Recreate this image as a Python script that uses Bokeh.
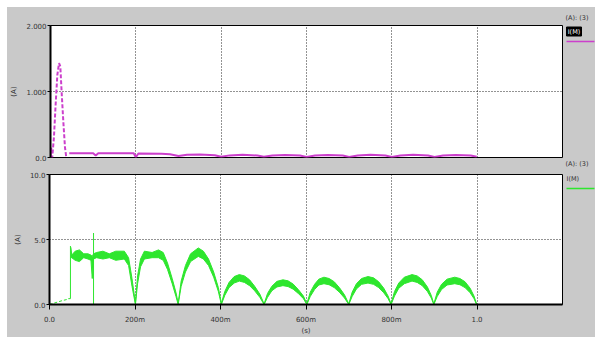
from bokeh.plotting import figure
from bokeh.layouts import column, row
from bokeh.models import FixedTicker, ColumnDataSource, Title
from bokeh.core.properties import value
from bokeh.embed import file_html
from bokeh.resources import INLINE

# ---------------- data ----------------
# top trace (magenta), start-up spike
mag_spike_t = [0.000, 0.002, 0.004, 0.008, 0.012, 0.016, 0.020, 0.023, 0.026, 0.030, 0.034, 0.037]
mag_spike_v = [0.00, 0.15, 0.00, 0.30, 0.80, 1.25, 1.43, 1.38, 1.00, 0.55, 0.15, 0.00]
# top trace, steady part
mag_t = [0.044, 0.100, 0.106, 0.112, 0.195, 0.200, 0.206, 0.260, 0.280, 0.300, 0.320, 0.350,
         0.385, 0.400, 0.420, 0.450, 0.485, 0.500, 0.520, 0.550, 0.585, 0.600, 0.620, 0.650,
         0.685, 0.700, 0.720, 0.750, 0.785, 0.800, 0.820, 0.850, 0.885, 0.900, 0.920, 0.950,
         0.985, 0.999]
mag_v = [0.065, 0.065, 0.030, 0.065, 0.065, 0.005, 0.060, 0.058, 0.050, 0.022, 0.040, 0.045,
         0.035, 0.010, 0.032, 0.040, 0.030, 0.010, 0.030, 0.038, 0.030, 0.008, 0.030, 0.038,
         0.030, 0.008, 0.030, 0.040, 0.030, 0.008, 0.030, 0.040, 0.030, 0.008, 0.030, 0.038,
         0.030, 0.010]

# bottom trace (green), start-up ramp
grn_ramp_t = [0.000, 0.010, 0.020, 0.030, 0.040, 0.044, 0.049, 0.049]
grn_ramp_v = [0.00, 0.10, 0.20, 0.30, 0.38, 0.45, 0.45, 4.50]
# thin spike
grn_spike_t = [0.103, 0.103]
grn_spike_v = [0.00, 5.50]
# ripple band envelope (time, upper edge, lower edge)
grn_t = [0.050, 0.052, 0.060, 0.070, 0.080, 0.090, 0.097, 0.100, 0.103, 0.110, 0.125, 0.140,
         0.155, 0.175, 0.185, 0.193, 0.201,
         0.206, 0.213, 0.222, 0.240, 0.255, 0.266, 0.276, 0.287, 0.296, 0.301,
         0.308, 0.318, 0.330, 0.348, 0.360, 0.372, 0.384, 0.395, 0.402,
         0.410, 0.420, 0.432, 0.444, 0.456, 0.468, 0.480, 0.492, 0.502,
         0.510, 0.520, 0.532, 0.546, 0.558, 0.570, 0.582, 0.594, 0.602,
         0.610, 0.620, 0.630, 0.642, 0.654, 0.666, 0.678, 0.690, 0.700,
         0.708, 0.718, 0.730, 0.745, 0.758, 0.770, 0.782, 0.792, 0.799,
         0.807, 0.817, 0.830, 0.848, 0.860, 0.872, 0.884, 0.893, 0.899,
         0.907, 0.917, 0.930, 0.948, 0.960, 0.972, 0.984, 0.993, 0.999]
grn_hi = [4.40, 3.80, 4.10, 4.20, 3.90, 3.90, 3.80, 3.70, 3.90, 4.00, 4.10, 3.90,
          4.10, 4.10, 3.60, 2.00, 0.10,
          2.20, 3.50, 4.10, 4.00, 4.20, 4.00, 3.20, 2.00, 0.90, 0.10,
          1.80, 3.00, 3.90, 4.35, 4.10, 3.50, 2.50, 1.30, 0.10,
          1.00, 1.70, 2.15, 2.30, 2.20, 1.90, 1.40, 0.80, 0.05,
          0.85, 1.40, 1.78, 1.90, 1.82, 1.57, 1.15, 0.65, 0.05,
          0.95, 1.55, 1.95, 2.10, 2.00, 1.75, 1.30, 0.75, 0.05,
          0.95, 1.60, 2.00, 2.15, 2.05, 1.75, 1.25, 0.65, 0.05,
          1.00, 1.65, 2.10, 2.30, 2.20, 1.90, 1.35, 0.70, 0.05,
          0.95, 1.55, 1.95, 2.10, 2.00, 1.75, 1.25, 0.65, 0.05]
grn_lo = [3.60, 3.60, 3.40, 3.30, 3.60, 3.50, 3.40, 2.00, 3.50, 3.60, 3.50, 3.60,
          3.40, 3.50, 3.00, 1.40, 0.00,
          1.60, 2.90, 3.50, 3.60, 3.60, 3.40, 2.70, 1.60, 0.60, 0.00,
          1.40, 2.50, 3.30, 3.70, 3.50, 3.00, 2.10, 1.00, 0.00,
          0.70, 1.30, 1.65, 1.80, 1.70, 1.45, 1.05, 0.55, 0.00,
          0.55, 1.05, 1.35, 1.45, 1.38, 1.18, 0.85, 0.45, 0.00,
          0.62, 1.15, 1.50, 1.60, 1.52, 1.30, 0.95, 0.50, 0.00,
          0.62, 1.20, 1.55, 1.65, 1.55, 1.30, 0.90, 0.45, 0.00,
          0.65, 1.25, 1.60, 1.80, 1.70, 1.45, 1.00, 0.50, 0.00,
          0.62, 1.15, 1.50, 1.60, 1.52, 1.30, 0.90, 0.45, 0.00]

x_ticks = [0.0, 0.2, 0.4, 0.6, 0.8, 1.0]
x_tick_labels = ["0.0", "200m", "400m", "600m", "800m", "1.0"]
top_y_ticks = [0.0, 1.0, 2.0]
top_y_labels = ["0.0", "1.000", "2.000"]
bot_y_ticks = [0.0, 5.0, 10.0]
bot_y_labels = ["0.0", "5.0", "10.0"]
trace_group = "(A): (3)"
trace_name = "I(M)"

MAGENTA = "#cc3fcc"
GREEN = "#2ee62e"
GRAY = "#c9c9c9"
FONT = "DejaVu Sans"
FS = "7px"
TXT = "#333333"


def style(p, yticks, ylabels, show_x):
    p.border_fill_color = GRAY
    p.background_fill_color = "white"
    p.outline_line_color = "black"
    p.outline_line_width = 1
    for ax in p.yaxis:
        ax.ticker = FixedTicker(ticks=yticks)
        ax.major_label_overrides = {t: l for t, l in zip(yticks, ylabels)}
        ax.axis_line_width = 2
        ax.axis_line_color = "black"
        ax.major_tick_out = 3
        ax.major_tick_in = 0
        ax.minor_tick_out = 0
        ax.minor_tick_in = 0
        ax.major_label_text_font = FONT
        ax.major_label_text_font_size = FS
        ax.major_label_text_color = TXT
        ax.major_label_standoff = 1
        ax.axis_label = "(A)"
        ax.axis_label_text_font = FONT
        ax.axis_label_text_font_size = FS
        ax.axis_label_text_font_style = "normal"
        ax.axis_label_text_color = TXT
        ax.axis_label_standoff = 5
    if show_x:
        for ax in p.xaxis:
            ax.ticker = FixedTicker(ticks=x_ticks)
            ax.axis_line_width = 2
            ax.axis_line_color = "black"
            ax.minor_tick_out = 0
            ax.minor_tick_in = 0
            ax.major_tick_in = 0
            ax.major_label_overrides = {t: l for t, l in zip(x_ticks, x_tick_labels)}
            ax.major_tick_out = 5
            ax.major_label_text_font = FONT
            ax.major_label_text_font_size = FS
            ax.major_label_text_color = TXT
            ax.major_label_standoff = 6
            ax.axis_label = "(s)"
            ax.axis_label_text_font = FONT
            ax.axis_label_text_font_size = FS
            ax.axis_label_text_font_style = "normal"
            ax.axis_label_text_color = TXT
            ax.axis_label_standoff = 0
    else:
        p.xaxis.visible = False
    p.xgrid.ticker = FixedTicker(ticks=x_ticks[1:])
    p.ygrid.ticker = FixedTicker(ticks=[yticks[1]])
    for g in (p.xgrid, p.ygrid):
        g.grid_line_color = "black"
        g.grid_line_dash = "1 2"
        g.grid_line_width = 1
        g.grid_line_alpha = 0.85


def group_title(standoff):
    return Title(text=trace_group, text_font=FONT, text_font_size="6.5px",
                 text_font_style="normal", text_color=TXT, align="left",
                 offset=1, standoff=standoff)


def legend_fig(h, frame_h, trace_color, boxed, y_name, y_line, top_title, bottom_title):
    # its frame is aligned with the neighbouring plot's frame by the row layout
    lg = figure(width=31, height=h, x_range=(0, 31), y_range=(0, frame_h),
                output_backend="svg", toolbar_location=None, title=None,
                x_axis_location=None, y_axis_location=None,
                min_border=0, min_border_left=0, min_border_right=0,
                min_border_top=0, min_border_bottom=0)
    if top_title:
        lg.add_layout(group_title(8), "above")
    if bottom_title:
        lg.add_layout(group_title(0), "below")
    lg.grid.visible = False
    lg.outline_line_color = None
    lg.background_fill_color = GRAY
    lg.border_fill_color = GRAY
    if boxed:
        lg.rect(x=[9.5], y=[y_name], width=15, height=9, fill_color="black", line_color="black")
        lg.text(x=[9.5], y=[y_name], text=[trace_name], text_font=value(FONT),
                text_font_size="6.5px", text_color="white", text_baseline="middle",
                text_align="center")
    else:
        lg.text(x=[2], y=[y_name], text=[trace_name], text_font=value(FONT),
                text_font_size="6.5px", text_color=TXT, text_baseline="middle")
    lg.segment(x0=[2], y0=[y_line], x1=[30], y1=[y_line], line_color=trace_color, line_width=1.5)
    return lg


p1 = figure(width=557, height=160, x_range=(0, 1.2), y_range=(0, 2.0),
            output_backend="svg", toolbar_location=None,
            min_border_left=42, min_border_right=2, min_border_top=18, min_border_bottom=10)
style(p1, top_y_ticks, top_y_labels, False)
p1.line(mag_spike_t, mag_spike_v, line_color=MAGENTA, line_width=2, line_dash="4 2")
p1.line(mag_t, mag_v, line_color=MAGENTA, line_width=2)

p2 = figure(width=557, height=170, x_range=(0, 1.2), y_range=(0, 10.0),
            output_backend="svg", toolbar_location=None,
            min_border_left=42, min_border_right=2, min_border_top=7, min_border_bottom=32)
style(p2, bot_y_ticks, bot_y_labels, True)
src = ColumnDataSource(dict(t=grn_t, hi=grn_hi, lo=grn_lo))
p2.varea(x="t", y1="lo", y2="hi", source=src, fill_color=GREEN)
p2.line(x="t", y="hi", source=src, line_color=GREEN, line_width=1)
p2.line(x="t", y="lo", source=src, line_color=GREEN, line_width=1)
p2.line(grn_ramp_t[:6], grn_ramp_v[:6], line_color=GREEN, line_width=1, line_dash="3 2")
p2.line(grn_ramp_t[5:], grn_ramp_v[5:], line_color=GREEN, line_width=1)
p2.line(grn_spike_t, grn_spike_v, line_color=GREEN, line_width=1)

leg1 = legend_fig(160, 132, MAGENTA, True, 126, 116, True, True)
leg2 = legend_fig(170, 131, GREEN, False, 126, 117, False, False)

layout = column(row(p1, leg1, spacing=0), row(p2, leg2, spacing=0), spacing=0,
                margin=(7, 0, 0, 7), styles={"background-color": GRAY})
open("out.html", "w").write(file_html(layout, INLINE))
